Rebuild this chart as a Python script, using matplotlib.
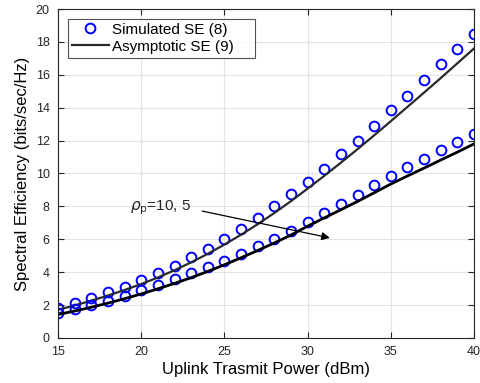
import numpy as np
import matplotlib
matplotlib.use("Agg")
import matplotlib.pyplot as plt

plt.rcParams['font.family'] = ['Liberation Sans', 'DejaVu Sans']

power = list(range(15, 41))

# simulated SE (circles)
sim_hi = [1.8, 2.15, 2.45, 2.8, 3.1, 3.5, 3.95, 4.4, 4.9, 5.4, 6.0, 6.6, 7.3, 8.0, 8.75,
          9.5, 10.3, 11.2, 12.0, 12.9, 13.85, 14.7, 15.7, 16.66, 17.57, 18.5]
sim_lo = [1.5, 1.75, 2.0, 2.25, 2.55, 2.9, 3.2, 3.6, 3.95, 4.3, 4.7, 5.1, 5.6, 6.0, 6.5,
          7.05, 7.6, 8.15, 8.7, 9.3, 9.85, 10.4, 10.9, 11.4, 11.9, 12.4]

# asymptotic SE (lines)
asy_hi = [1.72, 1.98, 2.27, 2.58, 2.92, 3.28, 3.68, 4.12, 4.6, 5.12, 5.68, 6.28, 6.92,
          7.6, 8.32, 9.08, 9.86, 10.66, 11.48, 12.32, 13.18, 14.05, 14.92, 15.8, 16.7, 17.6]
asy_lo = [1.43, 1.64, 1.87, 2.12, 2.39, 2.68, 2.99, 3.32, 3.67, 4.05, 4.45, 4.88, 5.32,
          5.78, 6.26, 6.8, 7.3, 7.8, 8.3, 8.83, 9.36, 9.85, 10.33, 10.82, 11.3, 11.8]

fig = plt.figure(figsize=(4.8, 3.83), dpi=100)
ax = fig.add_axes([0.121, 0.1175, 0.8665, 0.859])

ax.plot(power, sim_hi, 'o', mfc='none', mec='blue', ms=7, mew=1.4, label='Simulated SE (8)')
ax.plot(power, asy_hi, '-', color='#2a2a2a', lw=1.6, label='Asymptotic SE (9)')
ax.plot(power, sim_lo, 'o', mfc='none', mec='blue', ms=7, mew=1.4)
ax.plot(power, asy_lo, '-', color='black', lw=2)

ax.annotate('', xy=(31.5, 6.05), xytext=(23.5, 7.75),
            arrowprops=dict(arrowstyle='-|>', color='black', lw=0.9, mutation_scale=12))
ax.text(19.3, 7.9, r'$\rho_{\mathrm{p}}$=10, 5', fontsize=11, ha='left', va='center',
        color='#262626')

ax.set_xlim(15, 40)
ax.set_ylim(0, 20)
ax.set_xticks(range(15, 41, 5))
ax.set_yticks(range(0, 21, 2))
ax.grid(True, color='#e3e3e3', lw=0.8)
ax.set_axisbelow(True)
ax.tick_params(direction='in', top=True, right=True, labelsize=9, colors='#262626',
               length=4, pad=6)
for s in ax.spines.values():
    s.set_color('#262626')
    s.set_linewidth(0.8)

ax.set_xlabel('Uplink Trasmit Power (dBm)', fontsize=12, labelpad=3)
ax.set_ylabel('Spectral Efficiency (bits/sec/Hz)', fontsize=12, labelpad=4)

leg = ax.legend(loc='upper left', bbox_to_anchor=(0.024, 0.0, 0.45, 0.97), mode='expand',
                fontsize=11, frameon=True, fancybox=False,
                edgecolor='#262626', borderpad=0.25, handlelength=2.4, handletextpad=0.2,
                labelspacing=0.2, borderaxespad=0.0)
leg.get_frame().set_linewidth(0.8)

fig.savefig('out.png', dpi=100)
